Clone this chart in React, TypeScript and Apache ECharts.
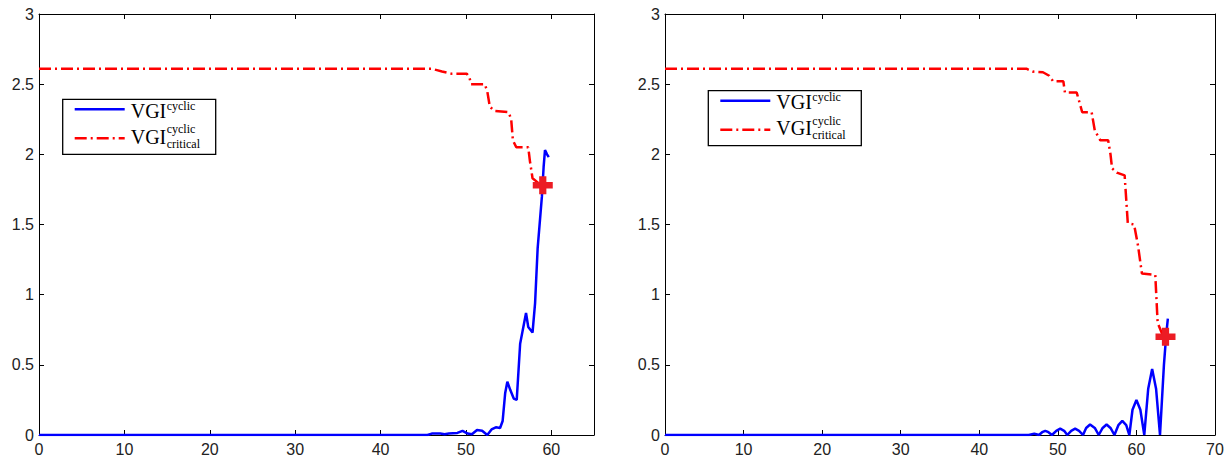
import React, { useEffect, useRef } from "react";
import * as echarts from "echarts";

// ---- data ----
const leftXMax = 65;
const rightXMax = 70;
const yMax = 3;

const leftVgi: [number, number][] = [
  [0, 0], [45.5, 0], [46, 0.01], [47, 0.01], [47.5, 0.005], [48, 0.01], [49, 0.015],
  [49.6, 0.03], [50.2, 0.01], [50.7, 0.005], [51.3, 0.035], [51.9, 0.03], [52.5, 0],
  [53.0, 0.04], [53.5, 0.055], [54.0, 0.05], [54.3, 0.1], [54.6, 0.3], [54.85, 0.38],
  [55.2, 0.32], [55.6, 0.26], [55.95, 0.25], [56.35, 0.65], [57.04, 0.87], [57.3, 0.77],
  [57.8, 0.73], [58.1, 0.94], [58.4, 1.33], [58.9, 1.7], [59.1, 1.91], [59.26, 2.03],
  [59.5, 2.0], [59.7, 1.98],
];

const leftCritical: [number, number][] = [
  [0, 2.61], [46, 2.61], [46.6, 2.6], [47.2, 2.59], [48.3, 2.575], [50.1, 2.575],
  [50.4, 2.55], [50.6, 2.5], [52.2, 2.5], [52.5, 2.45], [52.8, 2.34], [53.3, 2.31],
  [55.0, 2.3], [55.3, 2.25], [55.5, 2.1], [55.9, 2.05], [57.3, 2.05], [57.5, 1.95],
  [57.8, 1.83], [58.4, 1.8], [59.0, 1.78],
];

const leftFailure: [number, number][] = [[59.0, 1.78]];

const rightVgi: [number, number][] = [
  [0, 0], [46.3, 0], [47.0, 0.01], [47.6, 0], [48.0, 0.02], [48.4, 0.03], [48.8, 0.02],
  [49.25, 0], [49.8, 0.03], [50.3, 0.045], [50.8, 0.03], [51.2, 0], [51.7, 0.03],
  [52.2, 0.045], [52.7, 0.03], [53.2, 0], [53.6, 0.05], [54.1, 0.075], [54.7, 0.05],
  [55.2, 0], [55.7, 0.05], [56.2, 0.075], [56.7, 0.05], [57.2, 0], [57.7, 0.07],
  [58.2, 0.1], [58.7, 0.07], [59.1, 0], [59.5, 0.18], [60.0, 0.25], [60.5, 0.18],
  [61.0, 0], [61.5, 0.33], [62.0, 0.47], [62.5, 0.33], [63.0, 0], [63.5, 0.5],
  [63.8, 0.72], [64.0, 0.83],
];

const rightCritical: [number, number][] = [
  [0, 2.61], [46, 2.61], [46.8, 2.59], [48.1, 2.585], [48.9, 2.56], [49.4, 2.52],
  [50.7, 2.52], [50.9, 2.44], [52.4, 2.44], [52.7, 2.38], [53.1, 2.3], [54.3, 2.3],
  [54.7, 2.17], [55.4, 2.1], [56.4, 2.1], [56.7, 2.0], [56.9, 1.9], [57.5, 1.87],
  [58.5, 1.85], [58.9, 1.51], [59.7, 1.5], [60.2, 1.35], [60.7, 1.15], [62.4, 1.14],
  [62.7, 0.8], [63.2, 0.73], [63.7, 0.7],
];

const rightFailure: [number, number][] = [[63.7, 0.7]];

const legendMain = "VGI";
const legendSup = "cyclic";
const legendSub = "critical";

// ---- styling ----
const AXIS_COLOR = "#000";
const LABEL_COLOR = "#222";
const BLUE = "#0000ff";
const RED = "#ff0000";
const MARKER = "#ec1c24";
const DASH_DOT = [12, 4, 2, 4];
const PLUS = "path://M32,0H68V32H100V68H68V100H32V68H0V32H32Z";
const SERIF = '"Liberation Serif", "Times New Roman", serif';
const SANS = '"Liberation Sans", Arial, sans-serif';

function xAxisDef(gridIndex: number, max: number, position: "top" | "bottom") {
  return {
    type: "value",
    gridIndex,
    position,
    min: 0,
    max,
    interval: 10,
    axisLine: { show: true, onZero: false, lineStyle: { color: AXIS_COLOR, width: 1 } },
    axisTick: { show: true, inside: true, length: 5, lineStyle: { color: AXIS_COLOR } },
    axisLabel: {
      show: position === "bottom",
      margin: 6,
      color: LABEL_COLOR,
      fontSize: 16,
      fontFamily: SANS,
      formatter: (v: number) => (v % 10 === 0 ? String(v) : ""),
    },
    splitLine: { show: false },
  };
}

function yAxisDef(gridIndex: number, position: "left" | "right") {
  return {
    type: "value",
    gridIndex,
    position,
    min: 0,
    max: yMax,
    interval: 0.5,
    axisLine: { show: true, onZero: false, lineStyle: { color: AXIS_COLOR, width: 1 } },
    axisTick: { show: true, inside: true, length: 5, lineStyle: { color: AXIS_COLOR } },
    axisLabel: {
      show: position === "left",
      margin: 5,
      color: LABEL_COLOR,
      fontSize: 16,
      fontFamily: SANS,
    },
    splitLine: { show: false },
  };
}

function txt(x: number, y: number, text: string, size: number) {
  return {
    type: "text",
    z: 102,
    x,
    y,
    style: {
      text,
      fontSize: size,
      fontFamily: SERIF,
      fill: "#000",
      textAlign: "left",
      textVerticalAlign: "middle",
      align: "left",
      verticalAlign: "middle",
    },
  };
}

function legendBox(ox: number, oy: number) {
  return [
    {
      type: "rect",
      z: 100,
      shape: { x: ox, y: oy, width: 153, height: 55 },
      style: { fill: "#fff", stroke: "#000", lineWidth: 1.3 },
    },
    {
      type: "line",
      z: 101,
      shape: { x1: ox + 12, y1: oy + 10, x2: ox + 62, y2: oy + 10 },
      style: { stroke: BLUE, lineWidth: 2.5 },
    },
    {
      type: "line",
      z: 101,
      shape: { x1: ox + 12, y1: oy + 39, x2: ox + 62, y2: oy + 39 },
      style: { stroke: RED, lineWidth: 2.5, lineDash: DASH_DOT },
    },
    txt(ox + 68, oy + 11.7, legendMain, 20),
    txt(ox + 104, oy + 6.5, legendSup, 12),
    txt(ox + 68, oy + 37.4, legendMain, 20),
    txt(ox + 104, oy + 30, legendSup, 12),
    txt(ox + 104, oy + 44.5, legendSub, 12),
  ];
}

function seriesFor(xi: number, yi: number, vgi: [number, number][], crit: [number, number][], fail: [number, number][]) {
  return [
    {
      type: "line",
      xAxisIndex: xi,
      yAxisIndex: yi,
      data: vgi,
      symbol: "none",
      lineStyle: { color: BLUE, width: 2.5 },
      z: 3,
    },
    {
      type: "line",
      xAxisIndex: xi,
      yAxisIndex: yi,
      data: crit,
      symbol: "none",
      lineStyle: { color: RED, width: 2.5, type: DASH_DOT },
      z: 4,
    },
    {
      type: "scatter",
      xAxisIndex: xi,
      yAxisIndex: yi,
      data: fail,
      symbol: PLUS,
      symbolSize: [20, 18],
      itemStyle: { color: MARKER, opacity: 1 },
      z: 5,
    },
  ];
}

export default function App() {
  const ref = useRef<HTMLDivElement>(null);
  useEffect(() => {
    if (!ref.current) return;
    const chart = echarts.init(ref.current, undefined, { renderer: "svg" });
    chart.setOption({
      animation: false,
      backgroundColor: "#fff",
      grid: [
        { left: 39, top: 14, width: 555, height: 421 },
        { left: 665, top: 14, width: 550, height: 421 },
      ],
      xAxis: [
        xAxisDef(0, leftXMax, "bottom"),
        xAxisDef(0, leftXMax, "top"),
        xAxisDef(1, rightXMax, "bottom"),
        xAxisDef(1, rightXMax, "top"),
      ],
      yAxis: [
        yAxisDef(0, "left"),
        yAxisDef(0, "right"),
        yAxisDef(1, "left"),
        yAxisDef(1, "right"),
      ],
      series: [
        ...seriesFor(0, 0, leftVgi, leftCritical, leftFailure),
        ...seriesFor(2, 2, rightVgi, rightCritical, rightFailure),
      ],
      graphic: [...legendBox(62.7, 99.3), ...legendBox(708.3, 90.7)],
    });
    return () => chart.dispose();
  }, []);
  return (
    <div
      ref={ref}
      style={{ position: "absolute", left: 0, top: 0, width: 1227, height: 458 }}
    />
  );
}
